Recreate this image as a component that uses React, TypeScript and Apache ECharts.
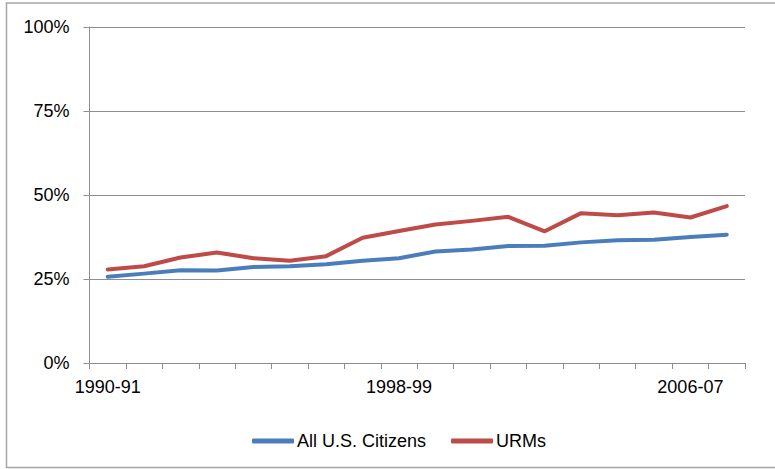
import React, { useEffect, useRef } from "react";
import * as echarts from "echarts";

const categories = [
  "1990-91", "1991-92", "1992-93", "1993-94", "1994-95", "1995-96",
  "1996-97", "1997-98", "1998-99", "1999-00", "2000-01", "2001-02",
  "2002-03", "2003-04", "2004-05", "2005-06", "2006-07", "2007-08",
];
const allCitizens = [25.7, 26.6, 27.6, 27.5, 28.6, 28.8, 29.4, 30.4, 31.2, 33.2, 33.8, 34.8, 34.9, 35.9, 36.5, 36.7, 37.5, 38.2];
const urms = [27.8, 28.8, 31.4, 32.9, 31.2, 30.4, 31.8, 37.3, 39.3, 41.2, 42.3, 43.5, 39.2, 44.6, 44.0, 44.8, 43.3, 46.7];
const seriesNames = ["All U.S. Citizens", "URMs"];

const FONT = "'Liberation Sans', Arial, sans-serif";
const GRID_COLOR = "#8e8e8e";

export default function App() {
  const ref = useRef<HTMLDivElement>(null);
  useEffect(() => {
    document.body.style.margin = "0";
    const chart = echarts.init(ref.current!, null, { renderer: "svg" });
    chart.setOption({
      animation: false,
      backgroundColor: "#ffffff",
      textStyle: { fontFamily: FONT, color: "#000" },
      graphic: [
        {
          type: "rect",
          shape: { x: 6.5, y: 3, width: 800, height: 464.5 },
          style: { fill: "none", stroke: "#a6a6a6", lineWidth: 1.5 },
          silent: true,
        },
      ],
      grid: { left: 89.5, right: 30, top: 27, bottom: 106, containLabel: false },
      legend: {
        left: 247,
        top: 427,
        itemWidth: 42,
        itemHeight: 5,
        itemGap: 25,
        icon: "roundRect",
        textStyle: { fontFamily: FONT, fontSize: 18, color: "#000", padding: [0, 0, 0, -2] },
        data: seriesNames,
      },
      xAxis: {
        type: "category",
        data: categories,
        boundaryGap: true,
        axisLine: { lineStyle: { color: GRID_COLOR, width: 1 } },
        axisTick: { show: true, interval: 0, length: 6, lineStyle: { color: GRID_COLOR } },
        axisLabel: { interval: 7, margin: 15, fontSize: 18, color: "#000", fontFamily: FONT },
        splitLine: { show: false },
      },
      yAxis: {
        type: "value",
        min: 0,
        max: 100,
        interval: 25,
        axisLine: { show: true, lineStyle: { color: GRID_COLOR, width: 1 } },
        axisTick: { show: true, length: 6, lineStyle: { color: GRID_COLOR } },
        axisLabel: { formatter: "{value}%", margin: 20, fontSize: 18, color: "#000", fontFamily: FONT },
        splitLine: { show: true, lineStyle: { color: GRID_COLOR, width: 1 } },
      },
      series: [
        {
          name: seriesNames[0],
          type: "line",
          data: allCitizens,
          symbol: "none",
          color: "#4A7EBB",
          lineStyle: { width: 4, color: "#4A7EBB", cap: "round", join: "round" },
        },
        {
          name: seriesNames[1],
          type: "line",
          data: urms,
          symbol: "none",
          color: "#BE4B48",
          lineStyle: { width: 4, color: "#BE4B48", cap: "round", join: "round" },
        },
      ],
    });
    return () => chart.dispose();
  }, []);
  return <div ref={ref} style={{ width: 775, height: 469 }} />;
}
